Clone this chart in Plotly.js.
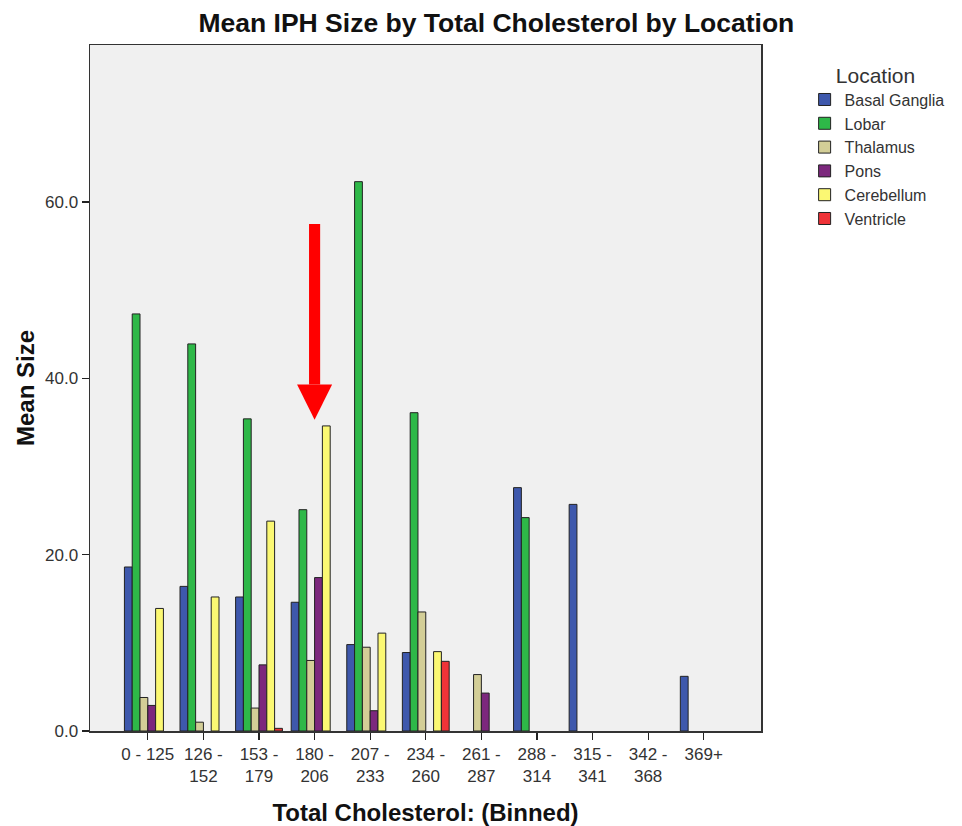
<!DOCTYPE html>
<html>
<head>
<meta charset="utf-8">
<script src="https://cdn.plot.ly/plotly-3.0.1.min.js"></script>
<style>html,body{margin:0;padding:0;background:#fff;}#chart{width:962px;height:826px;}</style>
</head>
<body>
<div id="chart"></div>
<script>
const categories = ["0 - 125","126 - 152","153 - 179","180 - 206","207 - 233","234 - 260","261 - 287","288 - 314","315 - 341","342 - 368","369+"];
const tickLabels = ["0 - 125","126 -<br>152","153 -<br>179","180 -<br>206","207 -<br>233","234 -<br>260","261 -<br>287","288 -<br>314","315 -<br>341","342 -<br>368","369+"];
const seriesNames = ["Basal Ganglia","Lobar","Thalamus","Pons","Cerebellum","Ventricle"];
const basalGanglia = [18.6, 16.4, 15.2, 14.6, 9.8, 8.9, null, 27.6, 25.7, null, 6.2];
const lobar        = [47.3, 43.9, 35.4, 25.1, 62.3, 36.1, null, 24.2, null, null, null];
const thalamus     = [3.8, 1.0, 2.6, 8.0, 9.5, 13.5, 6.4, null, null, null, null];
const pons         = [2.9, null, 7.5, 17.4, 2.3, null, 4.3, null, null, null, null];
const cerebellum   = [13.9, 15.2, 23.8, 34.6, 11.1, 9.0, null, null, null, null, null];
const ventricle    = [null, null, 0.3, null, null, 7.9, null, null, null, null, null];
const seriesValues = [basalGanglia, lobar, thalamus, pons, cerebellum, ventricle];
const colors = ["#3E58AC","#2EB848","#D3CE97","#7C287D","#FBF873","#EF3338"];

const font = "Liberation Sans, Arial, sans-serif";
const traces = seriesNames.map((n, i) => ({
  type: "bar",
  name: n,
  x: categories,
  y: seriesValues[i],
  marker: {color: colors[i], line: {color: "#222", width: 1}},
  hoverinfo: "x+y+name"
}));

// red arrow annotation marking the 180 - 206 bin
const arrowX = 3, shaftHalf = 0.1, headHalf = 0.315;
const shapes = [
  {type: "rect", xref: "x", yref: "y", x0: arrowX - shaftHalf, x1: arrowX + shaftHalf, y0: 39.3, y1: 57.5,
   fillcolor: "#ff0000", line: {width: 0}, layer: "above"},
  {type: "path", xref: "x", yref: "y",
   path: `M ${arrowX - headHalf},39.3 L ${arrowX + headHalf},39.3 L ${arrowX},35.3 Z`,
   fillcolor: "#ff0000", line: {width: 0}, layer: "above"}
];

const layout = {
  width: 962, height: 826,
  margin: {l: 90, r: 201, t: 45, b: 95},
  paper_bgcolor: "#ffffff",
  plot_bgcolor: "#f0f0f0",
  font: {family: font, color: "#333", size: 16},
  title: {text: "<b>Mean IPH Size by Total Cholesterol by Location</b>", xref: "container", x: 0.516, xanchor: "center",
          yref: "container", y: 0.973, yanchor: "middle", font: {family: font, size: 26.5, color: "#111"}},
  barmode: "group",
  bargap: 0.158,
  bargroupgap: 0,
  xaxis: {
    type: "category", range: [-1.04, 11.03],
    tickvals: categories, ticktext: tickLabels,
    ticks: "outside", ticklen: 7, tickcolor: "#222", tickwidth: 1.2,
    showline: true, linecolor: "#333", linewidth: 1.5, mirror: true,
    showgrid: false, zeroline: false,
    tickfont: {family: font, size: 17, color: "#333"},
    title: {text: "<b>Total Cholesterol: (Binned)</b>", font: {family: font, size: 24, color: "#111"}, standoff: 19}
  },
  yaxis: {
    range: [0, 77.8], tickvals: [0, 20, 40, 60], tickformat: ".1f",
    ticks: "outside", ticklen: 7, tickcolor: "#222", tickwidth: 1.2,
    showline: true, linecolor: "#333", linewidth: 1.5, mirror: true,
    showgrid: false, zeroline: false,
    tickfont: {family: font, size: 17, color: "#333"},
    title: {text: "<b>Mean Size</b>", font: {family: font, size: 24, color: "#111"}, standoff: 3}
  },
  legend: {
    x: 1.065, xanchor: "left", y: 0.985, yanchor: "top",
    bgcolor: "rgba(0,0,0,0)",
    font: {family: font, size: 16, color: "#333"},
    title: {text: "&nbsp;&nbsp;&nbsp;&nbsp;&nbsp;Location", side: "top", font: {family: font, size: 21, color: "#333"}},
    tracegroupgap: 0
  },
  shapes: shapes,
  showlegend: true
};

Plotly.newPlot("chart", traces, layout, {displayModeBar: false, staticPlot: true});
</script>
</body>
</html>
